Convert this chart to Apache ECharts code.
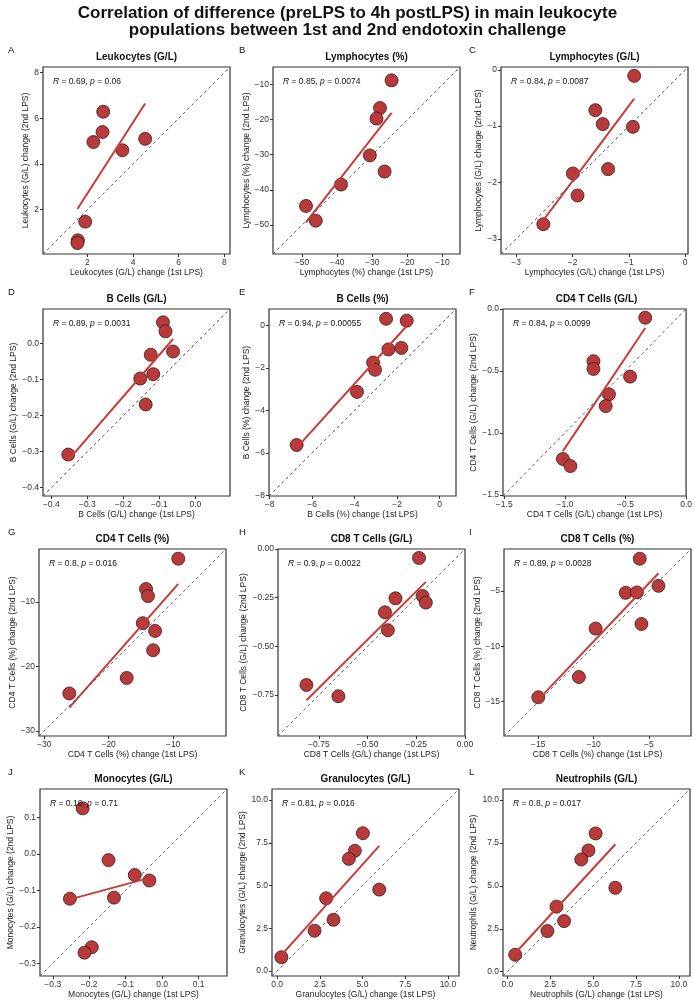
<!DOCTYPE html>
<html>
<head>
<meta charset="utf-8">
<script src="https://cdn.jsdelivr.net/npm/echarts@6/dist/echarts.min.js"></script>
<style>
html, body { margin: 0; padding: 0; background: #fff; }
#main { width: 695px; height: 1000px; }
</style>
</head>
<body>
<div id="main"></div>
<script>
// panel titles and letters
var panelNames = ['Leukocytes (G/L)', 'Lymphocytes (%)', 'Lymphocytes (G/L)',
  'B Cells (G/L)', 'B Cells (%)', 'CD4 T Cells (G/L)',
  'CD4 T Cells (%)', 'CD8 T Cells (G/L)', 'CD8 T Cells (%)',
  'Monocytes (G/L)', 'Granulocytes (G/L)', 'Neutrophils (G/L)'];
var panelLetters = ['A', 'B', 'C', 'D', 'E', 'F', 'G', 'H', 'I', 'J', 'K', 'L'];
var rValues = ['0.69', '0.85', '0.84', '0.89', '0.94', '0.84', '0.8', '0.9', '0.89', '0.16', '0.81', '0.8'];
var pValues = ['0.06', '0.0074', '0.0087', '0.0031', '0.00055', '0.0099', '0.016', '0.0022', '0.0028', '0.71', '0.016', '0.017'];

// change after 1st LPS (x) and 2nd LPS (y), one pair per panel
var leukoGL1 = [2.69, 2.66, 2.26, 3.53, 4.53, 1.90, 1.58, 1.56];
var leukoGL2 = [6.29, 5.40, 4.96, 4.60, 5.10, 1.47, 0.65, 0.53];
var lymphPct1 = [-24.5, -27.8, -28.8, -30.7, -26.5, -38.9, -48.9, -46.1];
var lymphPct2 = [-8.8, -16.7, -19.7, -30.2, -34.8, -38.5, -44.6, -48.8];
var lymphGL1 = [-0.905, -1.595, -1.464, -0.929, -1.369, -1.994, -1.911, -2.518];
var lymphGL2 = [-0.107, -0.716, -0.964, -1.012, -1.763, -1.840, -2.231, -2.740];
var bGL1 = [-0.090, -0.083, -0.062, -0.124, -0.153, -0.117, -0.138, -0.353];
var bGL2 = [0.059, 0.034, -0.022, -0.031, -0.097, -0.085, -0.169, -0.308];
var bPct1 = [-2.52, -1.55, -2.41, -1.80, -3.13, -3.04, -3.89, -6.73];
var bPct2 = [0.31, 0.22, -1.13, -1.06, -1.75, -2.09, -3.13, -5.63];
var cd4GL1 = [-0.337, -0.764, -0.764, -0.462, -0.636, -0.663, -1.016, -0.954];
var cd4GL2 = [-0.070, -0.422, -0.484, -0.546, -0.689, -0.784, -1.211, -1.268];
var cd4Pct1 = [-9.2, -14.2, -13.9, -14.7, -12.8, -13.1, -17.2, -26.1];
var cd4Pct2 = [-3.3, -8.0, -9.1, -13.3, -14.5, -17.5, -21.8, -24.2];
var cd8GL1 = [-0.236, -0.218, -0.201, -0.357, -0.411, -0.396, -0.814, -0.650];
var cd8GL2 = [-0.046, -0.241, -0.275, -0.253, -0.325, -0.417, -0.698, -0.756];
var cd8Pct1 = [-5.83, -7.10, -6.09, -4.14, -5.68, -9.82, -11.33, -15.0];
var cd8Pct2 = [-2.08, -5.16, -5.12, -4.53, -7.98, -8.39, -12.77, -14.6];
var monoGL1 = [-0.218, -0.147, -0.075, -0.035, -0.132, -0.253, -0.193, -0.213];
var monoGL2 = [0.125, -0.017, -0.058, -0.073, -0.120, -0.123, -0.256, -0.271];
var granGL1 = [5.02, 4.55, 4.20, 5.98, 2.87, 3.30, 2.19, 0.25];
var granGL2 = [8.06, 7.03, 6.56, 4.76, 4.25, 2.99, 2.35, 0.80];
var neutGL1 = [5.15, 4.73, 4.31, 6.30, 2.87, 3.31, 2.34, 0.46];
var neutGL2 = [8.06, 7.07, 6.54, 4.89, 3.79, 2.95, 2.37, 0.99];

var firstLPS = [leukoGL1, lymphPct1, lymphGL1, bGL1, bPct1, cd4GL1, cd4Pct1, cd8GL1, cd8Pct1, monoGL1, granGL1, neutGL1];
var secondLPS = [leukoGL2, lymphPct2, lymphGL2, bGL2, bPct2, cd4GL2, cd4Pct2, cd8GL2, cd8Pct2, monoGL2, granGL2, neutGL2];

// axis limits (same on x and y) and tick labels
var axisMin = [0.05, -58.3, -3.27, -0.423, -8.03, -1.51, -30.8, -0.96, -18.1, -0.335, -0.3, -0.25];
var axisMax = [8.25, -5.0, 0.05, 0.096, 0.77, 0.0, -1.8, 0.0, -1.2, 0.178, 10.65, 10.65];
var tickValues = [
  [2, 4, 6, 8], [-50, -40, -30, -20, -10], [-3, -2, -1, 0],
  [-0.4, -0.3, -0.2, -0.1, 0], [-8, -6, -4, -2, 0], [-1.5, -1, -0.5, 0],
  [-30, -20, -10], [-0.75, -0.5, -0.25, 0], [-15, -10, -5],
  [-0.3, -0.2, -0.1, 0, 0.1], [0, 2.5, 5, 7.5, 10], [0, 2.5, 5, 7.5, 10]
];
var tickDecimals = [0, 0, 0, 1, 0, 1, 0, 2, 0, 1, 1, 1];

// layout
var gridLeft = [43, 273, 501, 43, 269, 503, 39, 278, 504, 40, 272, 503];
var gridTop = [67, 67, 67, 309, 309, 309, 549, 549, 549, 789, 789, 789];
var letterX = [8, 239, 469];
var boxSize = 187;
var font = 'Liberation Sans, Arial, Helvetica, sans-serif';
var tickFont = 8.5;

var ctx = document.createElement('canvas').getContext('2d');
ctx.font = tickFont + 'px ' + font;

function fmt(v, d) {
  return v.toFixed(d).replace('-', '\u2212');
}

// least squares line over the x range of the points
function fitLine(xs, ys) {
  var n = xs.length, mx = 0, my = 0, sxy = 0, sxx = 0;
  for (var i = 0; i < n; i++) { mx += xs[i]; my += ys[i]; }
  mx /= n; my /= n;
  for (var i = 0; i < n; i++) {
    sxy += (xs[i] - mx) * (ys[i] - my);
    sxx += (xs[i] - mx) * (xs[i] - mx);
  }
  var b = sxy / sxx, a = my - b * mx;
  var x0 = Math.min.apply(null, xs), x1 = Math.max.apply(null, xs);
  return [[x0, a + b * x0], [x1, a + b * x1]];
}

var grids = [], xAxes = [], yAxes = [], series = [], graphics = [];

graphics.push({
  type: 'text', x: 347.5, y: 21.5,
  style: {
    text: 'Correlation of difference (preLPS to 4h postLPS) in main leukocyte\npopulations between 1st and 2nd endotoxin challenge',
    fontSize: 17, fontWeight: 'bold', fontFamily: font, fill: '#111',
    textAlign: 'center', textVerticalAlign: 'middle', lineHeight: 17
  }
});

for (var i = 0; i < 12; i++) {
  var d = tickDecimals[i];
  var maxW = 0;
  tickValues[i].forEach(function (v) {
    maxW = Math.max(maxW, ctx.measureText(fmt(v, d)).width);
  });
  grids.push({
    left: gridLeft[i], top: gridTop[i], width: boxSize, height: boxSize,
    containLabel: false, show: true, borderColor: '#333', borderWidth: 1.2,
    backgroundColor: '#fff'
  });
  var axisCommon = {
    type: 'value', gridIndex: i, min: axisMin[i], max: axisMax[i],
    nameLocation: 'middle',
    nameTextStyle: { fontSize: 8.5, color: '#222', fontFamily: font },
    axisLine: { show: false, onZero: false },
    axisTick: { show: true, length: 3, lineStyle: { color: '#333' }, customValues: tickValues[i] },
    splitLine: { show: false },
    axisLabel: {
      fontSize: tickFont, color: '#333', fontFamily: font, margin: 4,
      customValues: tickValues[i],
      formatter: (function (dd) { return function (v) { return fmt(v, dd); }; })(d)
    }
  };
  xAxes.push(Object.assign({}, axisCommon, {
    position: 'bottom',
    name: panelNames[i] + ' change (1st LPS)', nameGap: 14
  }));
  yAxes.push(Object.assign({}, axisCommon, {
    position: 'left',
    name: panelNames[i] + ' change (2nd LPS)', nameGap: maxW + 5.5
  }));

  var pts = firstLPS[i].map(function (x, k) { return [x, secondLPS[i][k]]; });
  series.push({
    type: 'scatter', xAxisIndex: i, yAxisIndex: i, data: pts, z: 2,
    symbolSize: 13,
    itemStyle: { color: '#b83a3a', borderColor: '#3d1a1a', borderWidth: 0.8, opacity: 1 }
  });
  series.push({
    type: 'line', xAxisIndex: i, yAxisIndex: i, z: 3,
    data: fitLine(firstLPS[i], secondLPS[i]), showSymbol: false, silent: true,
    lineStyle: { color: '#c83c37', width: 2 }
  });
  series.push({
    type: 'line', xAxisIndex: i, yAxisIndex: i, z: 4,
    data: [[axisMin[i], axisMin[i]], [axisMax[i], axisMax[i]]], showSymbol: false, silent: true,
    lineStyle: { color: '#555', width: 0.9, type: [3, 3] }
  });

  var col = i % 3;
  graphics.push({
    type: 'text', x: letterX[col], y: gridTop[i] - 17,
    style: { text: panelLetters[i], fontSize: 9.5, fontFamily: font, fill: '#111', textVerticalAlign: 'middle' }
  });
  graphics.push({
    type: 'text', x: gridLeft[i] + boxSize / 2, y: gridTop[i] - 10,
    style: { text: panelNames[i], fontSize: 10, fontWeight: 'bold', fontFamily: font, fill: '#111',
      textAlign: 'center', textVerticalAlign: 'middle' }
  });
  graphics.push({
    type: 'text', x: gridLeft[i] + 10, y: gridTop[i] + 15, z: 10,
    style: {
      text: '{i|R} = ' + rValues[i] + ', {i|p} = ' + pValues[i],
      fontSize: 8.5, fontFamily: font, fill: '#111', textVerticalAlign: 'middle',
      rich: { i: { fontStyle: 'italic', fontSize: 8.5, fontFamily: font, fill: '#111' } }
    }
  });
}

var myChart = echarts.init(document.getElementById('main'));
myChart.setOption({
  animation: false,
  backgroundColor: '#fff',
  grid: grids,
  xAxis: xAxes,
  yAxis: yAxes,
  series: series,
  graphic: graphics
});
</script>
</body>
</html>
